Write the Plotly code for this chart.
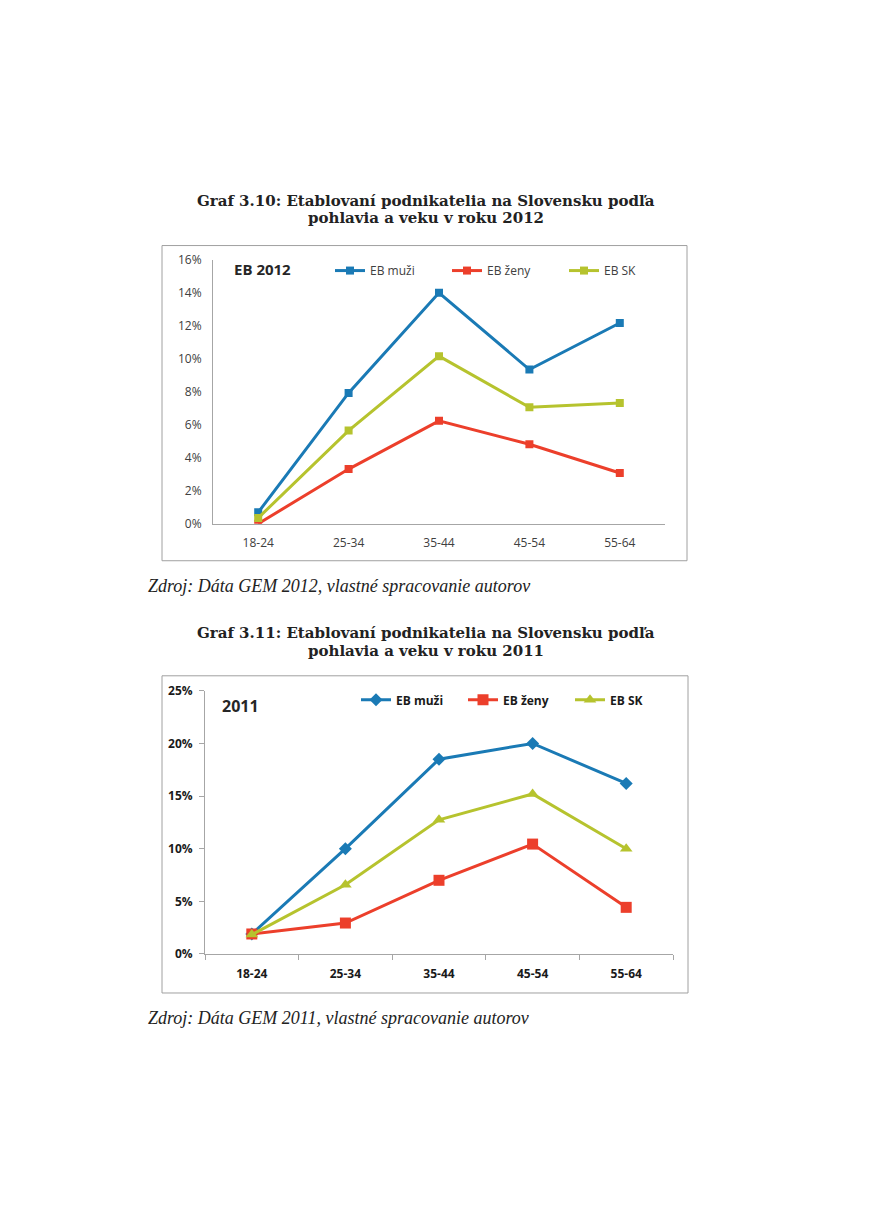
import plotly.graph_objects as go

W, H = 871, 1231
OFF = 8  # page body margin of the browser
# empirical vertical correction of the photographed page
VS, VO = 0.9856, 8.7


def px(x):
    return (x - OFF) / W


def py(y):
    yd = (y - VO) / VS
    return 1 - (yd - OFF) / H


# ---------------- data ----------------
age_groups = ["18-24", "25-34", "35-44", "45-54", "55-64"]

muzi_2012 = [0.69, 7.92, 13.99, 9.34, 12.16]
zeny_2012 = [0.0, 3.31, 6.23, 4.81, 3.07]
sk_2012 = [0.35, 5.64, 10.15, 7.05, 7.31]

muzi_2011 = [1.9, 10.0, 18.5, 20.0, 16.2]
zeny_2011 = [1.9, 2.94, 7.0, 10.44, 4.43]
sk_2011 = [1.84, 6.58, 12.75, 15.2, 10.0]

ticks_2012 = [0, 2, 4, 6, 8, 10, 12, 14, 16]
ticks_2011 = [0, 5, 10, 15, 20, 25]

series_names = ["EB muži", "EB ženy", "EB SK"]

title_2012 = ["Graf 3.10: Etablovaní podnikatelia na Slovensku podľa", "pohlavia a veku v roku 2012"]
title_2011 = ["Graf 3.11: Etablovaní podnikatelia na Slovensku podľa", "pohlavia a veku v roku 2011"]
source_2012 = "Zdroj: Dáta GEM 2012, vlastné spracovanie autorov"
source_2011 = "Zdroj: Dáta GEM 2011, vlastné spracovanie autorov"
label_2012 = "EB 2012"
label_2011 = "2011"

# ---------------- style ----------------
BLUE = "#1a7ab5"
RED = "#ec3f2b"
GREEN = "#b6c32e"
TXT = "#404040"
AXC = "#a6a6a6"
SANS = "Open Sans"
SERIF = "DejaVu Serif"

fig = go.Figure()

# Chart 1 (2012)
for name, vals, col in zip(series_names, [muzi_2012, zeny_2012, sk_2012], [BLUE, RED, GREEN]):
    fig.add_trace(go.Scatter(
        x=age_groups, y=vals, name=name, mode="lines+markers",
        line=dict(color=col, width=3),
        marker=dict(symbol="square", size=8, color=col),
        xaxis="x", yaxis="y", legend="legend",
    ))

# Chart 2 (2011)
symbols_2011 = ["diamond", "square", "triangle-up"]
sizes_2011 = [10, 11, 11]
for name, vals, col, sym, sz in zip(series_names, [muzi_2011, zeny_2011, sk_2011],
                                     [BLUE, RED, GREEN], symbols_2011, sizes_2011):
    fig.add_trace(go.Scatter(
        x=age_groups, y=vals, name=name, mode="lines+markers",
        line=dict(color=col, width=3),
        marker=dict(symbol=sym, size=sz, color=col),
        xaxis="x2", yaxis="y2", legend="legend2",
    ))

fig.update_layout(
    width=W, height=H,
    margin=dict(l=0, r=0, t=0, b=0),
    paper_bgcolor="white", plot_bgcolor="white",
    xaxis=dict(
        domain=[px(213), px(665)], anchor="y",
        type="category", range=[-0.5, 4.5],
        showline=True, linecolor=AXC, linewidth=1,
        showgrid=False, zeroline=False, ticks="",
        tickfont=dict(family=SANS, size=12, color=TXT),
        ticklabelstandoff=8,
    ),
    yaxis=dict(
        domain=[py(523), py(259)], anchor="x",
        range=[0, 16], tickvals=ticks_2012,
        ticktext=[f"{v}%" for v in ticks_2012],
        showline=True, linecolor=AXC, linewidth=1,
        showgrid=False, zeroline=False, ticks="",
        tickfont=dict(family=SANS, size=12, color=TXT),
        ticklabelstandoff=8,
    ),
    xaxis2=dict(
        domain=[px(205), px(673)], anchor="y2",
        type="category", range=[-0.5, 4.5],
        showline=True, linecolor=AXC, linewidth=1,
        showgrid=False, zeroline=False,
        ticks="outside", ticklen=5, tickcolor=AXC, tickson="boundaries",
        tickfont=dict(family=SANS, size=12, color="#1a1a1a", weight="bold"),
        ticklabelstandoff=9,
    ),
    yaxis2=dict(
        domain=[py(953), py(690)], anchor="x2",
        range=[0, 25], tickvals=ticks_2011,
        ticktext=[f"{v}%" for v in ticks_2011],
        showline=True, linecolor=AXC, linewidth=1,
        showgrid=False, zeroline=False,
        ticks="outside", ticklen=5, tickcolor=AXC,
        tickfont=dict(family=SANS, size=12, color="#1a1a1a", weight="bold"),
        ticklabelstandoff=4,
    ),
    legend=dict(
        orientation="h", x=px(330), y=py(270), xanchor="left", yanchor="middle",
        font=dict(family=SANS, size=12, color=TXT),
        entrywidth=72, entrywidthmode="pixels",
        bgcolor="rgba(0,0,0,0)", borderwidth=0,
    ),
    legend2=dict(
        orientation="h", x=px(356), y=py(699), xanchor="left", yanchor="middle",
        font=dict(family=SANS, size=12, color="#1a1a1a", weight="bold"),
        entrywidth=62, entrywidthmode="pixels",
        bgcolor="rgba(0,0,0,0)", borderwidth=0,
    ),
    showlegend=True,
)

# frames around charts
fig.add_shape(type="rect", xref="paper", yref="paper",
              x0=px(162), x1=px(687), y0=py(560), y1=py(245),
              line=dict(color="#a0a0a0", width=1))
fig.add_shape(type="rect", xref="paper", yref="paper",
              x0=px(162), x1=px(688), y0=py(992), y1=py(675),
              line=dict(color="#a0a0a0", width=1))

title_font = dict(family=SERIF, size=15, color="#222222")
annos = [
    dict(text=f"<b>{title_2012[0]}</b>", x=px(426), y=py(200), font=title_font),
    dict(text=f"<b>{title_2012[1]}</b>", x=px(426), y=py(217), font=title_font),
    dict(text=f"<b>{title_2011[0]}</b>", x=px(426), y=py(632), font=title_font),
    dict(text=f"<b>{title_2011[1]}</b>", x=px(426), y=py(650), font=title_font),
    dict(text=f"<i>{source_2012}</i>", x=px(146), y=py(585), xanchor="left",
         font=dict(family="Liberation Serif", size=18, color="#222222")),
    dict(text=f"<i>{source_2011}</i>", x=px(146), y=py(1017), xanchor="left",
         font=dict(family="Liberation Serif", size=18, color="#222222")),
    dict(text=f"<b>{label_2012}</b>", x=px(232), y=py(268), xanchor="left",
         font=dict(family=SANS, size=15, color="#262626")),
    dict(text=f"<b>{label_2011}</b>", x=px(220), y=py(705), xanchor="left",
         font=dict(family=SANS, size=16, color="#262626")),
]
for a in annos:
    a.setdefault("xanchor", "center")
    fig.add_annotation(xref="paper", yref="paper", showarrow=False, yanchor="middle", **a)

fig.write_html("out.html")
